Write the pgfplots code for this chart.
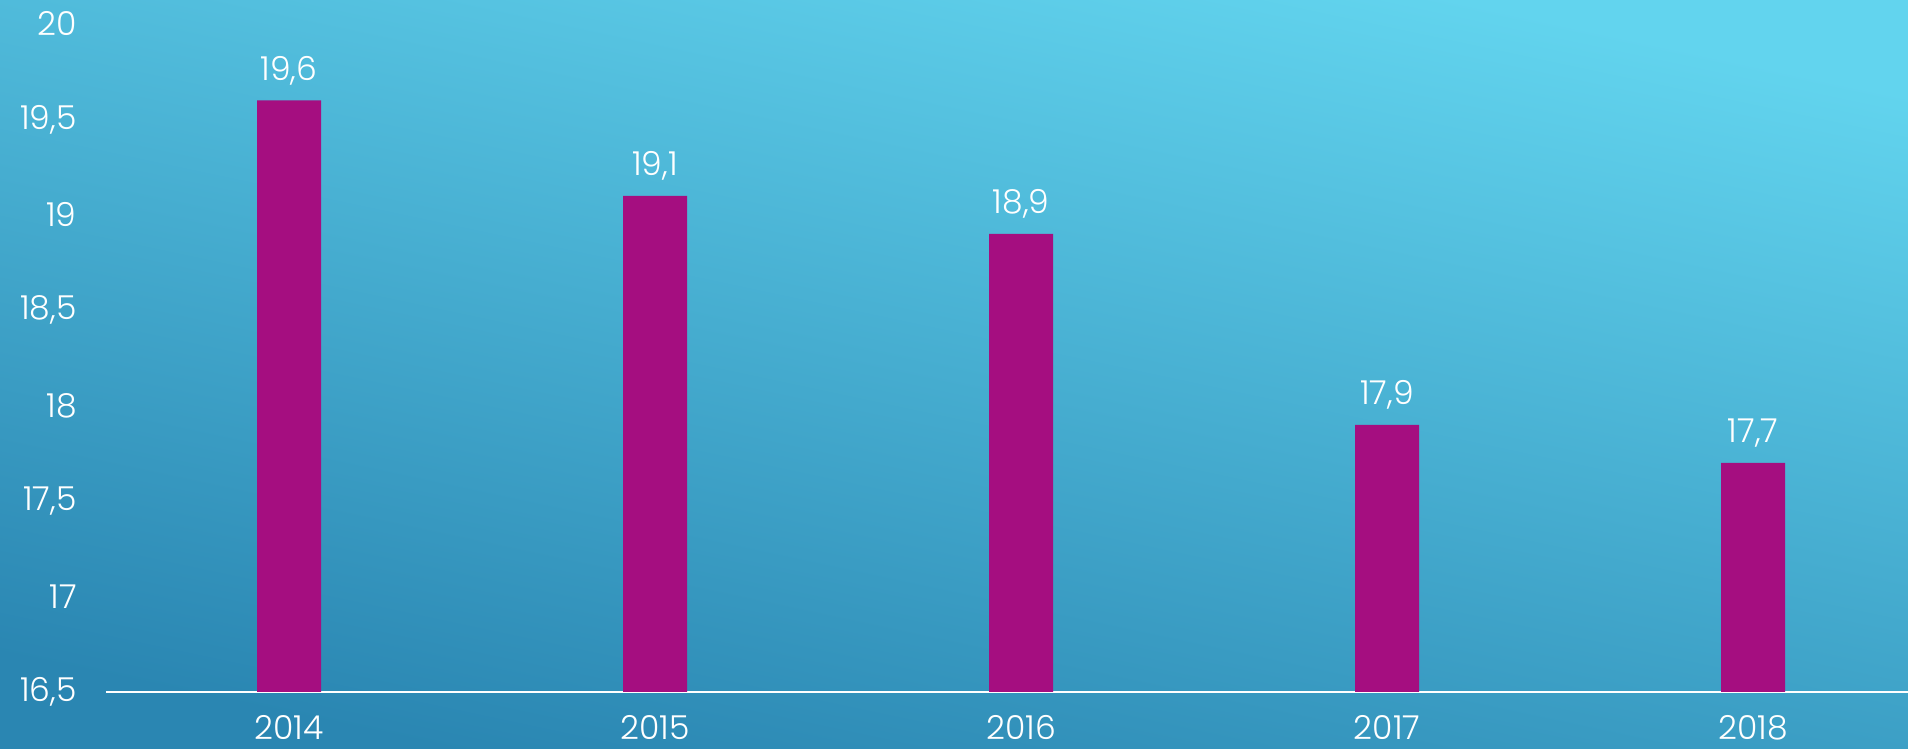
\documentclass[border=0pt]{standalone}
\usepackage{fontspec}
\setmainfont{Poppins}[UprightFont={* Light}]
\usepackage{pgfplots}
\pgfplotsset{compat=1.18}
\definecolor{bgtop}{RGB}{98,212,238}
\definecolor{bgbot}{RGB}{42,134,178}
\definecolor{barmag}{RGB}{165,14,128}
\pgfplotsset{/pgf/number format/assume math mode=true}
\begin{document}
\begin{tikzpicture}[x=0.5pt,y=0.5pt]
\useasboundingbox (0,0) rectangle (1908,749);
\clip (0,0) rectangle (1908,749);
\shade[top color=bgtop, bottom color=bgbot, shading angle=-12] (0,0) rectangle (1908,749);
\begin{axis}[
    at={(53pt,28.5pt)}, anchor=south west,
    scale only axis,
    width=901pt, height=334pt,
    xmin=-0.5, xmax=4.423,
    ymin=16.5, ymax=20,
    ytick={16.5,17,...,20},
    xtick=data,
    xticklabels={2014,2015,2016,2017,2018},
    ybar, bar width=32pt,
    axis x line*=bottom,
    axis y line*=left,
    x axis line style={white, line width=1pt, -},
    y axis line style={draw=none},
    major tick length=0pt,
    font=\fontsize{16.5}{19}\selectfont,
    yticklabel style={anchor=east, inner sep=0pt, xshift=-14.5pt, text=white,
        /pgf/number format/use comma},
    xticklabel style={anchor=north, inner sep=0pt, yshift=-11.5pt, text=white},
    nodes near coords,
    nodes near coords style={anchor=south, inner sep=0pt, yshift=7.5pt, text=white,
        /pgf/number format/.cd, use comma, fixed, precision=1, fixed zerofill},
    clip=true,
]
\addplot[fill=barmag, draw=none] coordinates {
    (0,19.6) (1,19.1) (2,18.9) (3,17.9) (4,17.7)
};
\end{axis}
\end{tikzpicture}
\end{document}
